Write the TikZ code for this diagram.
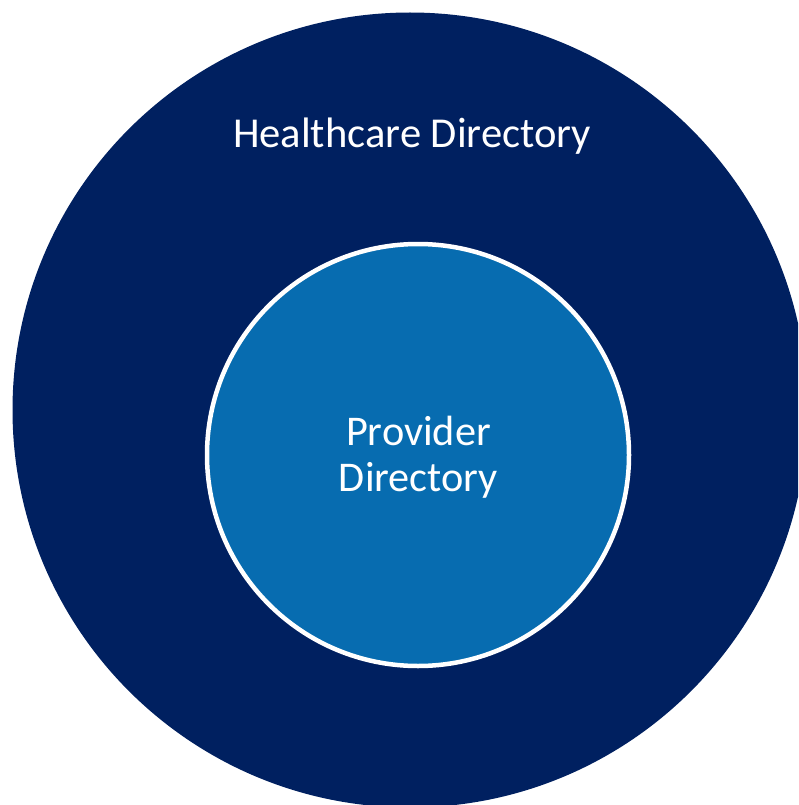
\documentclass[tikz,border=0pt]{standalone}
\usepackage{fontspec}
\setmainfont{Carlito}
\definecolor{navy}{RGB}{0,32,96}
\definecolor{provblue}{RGB}{7,108,176}

\begin{document}
\begin{tikzpicture}[x=1pt,y=-1pt]
    \useasboundingbox (0,0) rectangle (798,805);
    \clip (0,0) rectangle (798,805);
    \node[circle, fill=navy, minimum size=795pt, inner sep=0pt] (healthcare) at (410,410) {};
    \node[anchor=base, text=white, font=\fontsize{42.6}{46}\selectfont] (hclabel) at (412,148) {Healthcare Directory};
    \node[circle, fill=provblue, draw=white, line width=4.5pt, minimum size=422pt, inner sep=0pt] (provider) at (418,455) {};
    \node[align=center, text=white, font=\fontsize{42.3}{46}\selectfont] (provlabel) at (418.5,457.5) {Provider\\Directory};
    %\draw (provider.north) -- (provider.south);
  \end{tikzpicture}
\end{document}
